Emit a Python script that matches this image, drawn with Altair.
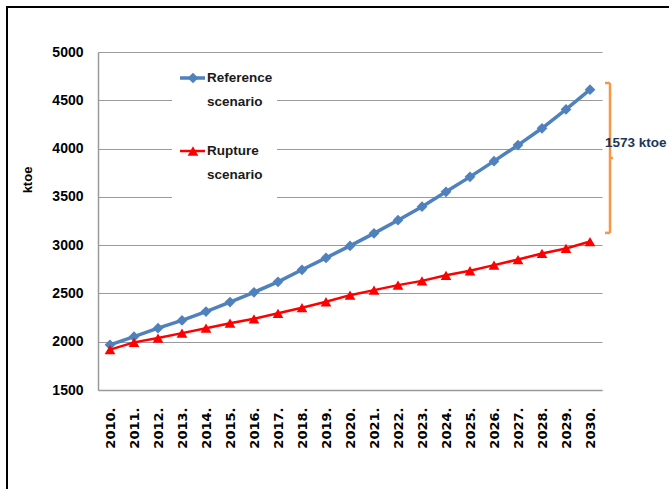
import altair as alt
import pandas as pd

# ---------------- data ----------------
years = [f"{y}." for y in range(2010, 2031)]
reference = [1968, 2052, 2140, 2220, 2312, 2410, 2512, 2620, 2745, 2868, 2992,
             3122, 3258, 3398, 3552, 3707, 3870, 4036, 4210, 4405, 4610]
rupture = [1918, 1993, 2038, 2089, 2140, 2192, 2237, 2294, 2352, 2414, 2482,
           2534, 2586, 2630, 2688, 2735, 2793, 2851, 2914, 2966, 3037]
series = ["Reference scenario", "Rupture scenario"]
legend_lines = [["Reference", "scenario"], ["Rupture", "scenario"]]
colors = ["#4F81BD", "#FF0000"]
y_ticks = [1500, 2000, 2500, 3000, 3500, 4000, 4500, 5000]
gap_label = "1573 ktoe"
bracket = [4679, 3903, 3127]  # top, middle, bottom of the brace (ktoe)
y_title = "ktoe"

W, H = 504, 338
FONT = "Liberation Sans"

df = pd.DataFrame({
    "year": years * 2,
    "value": reference + rupture,
    "series": [series[0]] * len(years) + [series[1]] * len(years),
})

yscale = alt.Scale(domain=[1500, 5000], nice=False, zero=False)
yaxis = alt.Axis(title=None, values=y_ticks, format="d", labelFont=FONT,
                 labelFontWeight="bold", labelFontSize=14, labelColor="black",
                 ticks=False, tickSize=0, labelPadding=15,
                 domainColor="#9A9A9A", domainWidth=1.5,
                 grid=True, gridColor="#9A9A9A", gridWidth=1.2)

xenc = alt.X("year:O", sort=years, scale=alt.Scale(padding=0.5),
             axis=alt.Axis(title=None, labelAngle=270, labelFont="DejaVu Sans",
                           labelFontWeight="bold", labelFontSize=13, labelColor="black",
                           ticks=False, tickSize=0, labelPadding=17,
                           domainColor="#9A9A9A", domainWidth=1.5, grid=False))
yenc = alt.Y("value:Q", scale=yscale, axis=yaxis)

base = alt.Chart(df)

layers = []

# legend box (white, covers gridlines)
layers.append(alt.Chart(pd.DataFrame({"a": [0]})).mark_rect(fill="white").encode(
    x=alt.value(74), x2=alt.value(179), y=alt.value(6), y2=alt.value(150)))

styles = [
    dict(shape="diamond", width=3.5, size=115),
    dict(shape="triangle-up", width=2.5, size=115),
]

for i, name in enumerate(series):
    st = styles[i]
    sub = base.transform_filter(alt.datum.series == name)
    layers.append(sub.mark_line(color=colors[i], strokeWidth=st["width"]).encode(x=xenc, y=yenc))
    layers.append(sub.mark_point(filled=True, color=colors[i], shape=st["shape"],
                                 size=st["size"], opacity=1).encode(x=xenc, y=yenc))

# legend items
leg_y = [26, 99]
for i, name in enumerate(series):
    st = styles[i]
    ldf = alt.Chart(pd.DataFrame({"series": [name]}))
    layers.append(ldf.mark_rule(color=colors[i], strokeWidth=st["width"]).encode(
        x=alt.value(82), x2=alt.value(107), y=alt.value(leg_y[i])))
    layers.append(ldf.mark_point(filled=True, color=colors[i], shape=st["shape"],
                                 size=st["size"], opacity=1).encode(
        x=alt.value(95), y=alt.value(leg_y[i])))
    for j, txt in enumerate(legend_lines[i]):
        layers.append(alt.Chart(pd.DataFrame({"t": [txt]})).mark_text(
            align="left", baseline="middle", font=FONT, fontWeight="bold",
            fontSize=13.5, color="#1a1a1a").encode(
            text="t:N", x=alt.value(109), y=alt.value(leg_y[i] + 24 * j)))

# y title
layers.append(alt.Chart(pd.DataFrame({"t": [y_title]})).mark_text(
    angle=270, font=FONT, fontWeight="bold", fontSize=13, color="black",
    baseline="middle", align="center").encode(
    text="t:N", x=alt.value(-70), y=alt.value(128)))

# orange brace annotation
orange = "#F79646"
vdf = pd.DataFrame({"value": [bracket[0]], "value2": [bracket[2]]})
layers.append(alt.Chart(vdf).mark_rule(color=orange, strokeWidth=2.5).encode(
    x=alt.value(512), y=yenc, y2="value2:Q"))
hdf = pd.DataFrame({"value": [bracket[0], bracket[2]]})
layers.append(alt.Chart(hdf).mark_rule(color=orange, strokeWidth=2.5).encode(
    x=alt.value(507), x2=alt.value(512), y=yenc))
mdf = pd.DataFrame({"value": [bracket[1]]})
layers.append(alt.Chart(mdf).mark_rule(color=orange, strokeWidth=2.5).encode(
    x=alt.value(512), x2=alt.value(515), y=yenc))

layers.append(alt.Chart(pd.DataFrame({"t": [gap_label]})).mark_text(
    align="left", baseline="middle", font=FONT, fontWeight="bold", fontSize=13.5,
    color="#17375E").encode(text="t:N", x=alt.value(507), y=alt.value(91)))

# outer frame (left and top edges)
fr = alt.Chart(pd.DataFrame({"a": [0]}))
layers.append(fr.mark_rule(color="black", strokeWidth=2).encode(
    x=alt.value(-91), y=alt.value(-46), y2=alt.value(437)))
layers.append(fr.mark_rule(color="black", strokeWidth=2).encode(
    x=alt.value(-92), x2=alt.value(571), y=alt.value(-45)))

chart = alt.layer(*layers).properties(
    width=W, height=H,
    autosize=alt.AutoSizeParams(type="none"),
    padding={"left": 98, "top": 52, "right": 67, "bottom": 99},
    background="white",
).configure_view(stroke=None)

chart.save("out.html", embed_options={"renderer": "svg", "actions": False})
